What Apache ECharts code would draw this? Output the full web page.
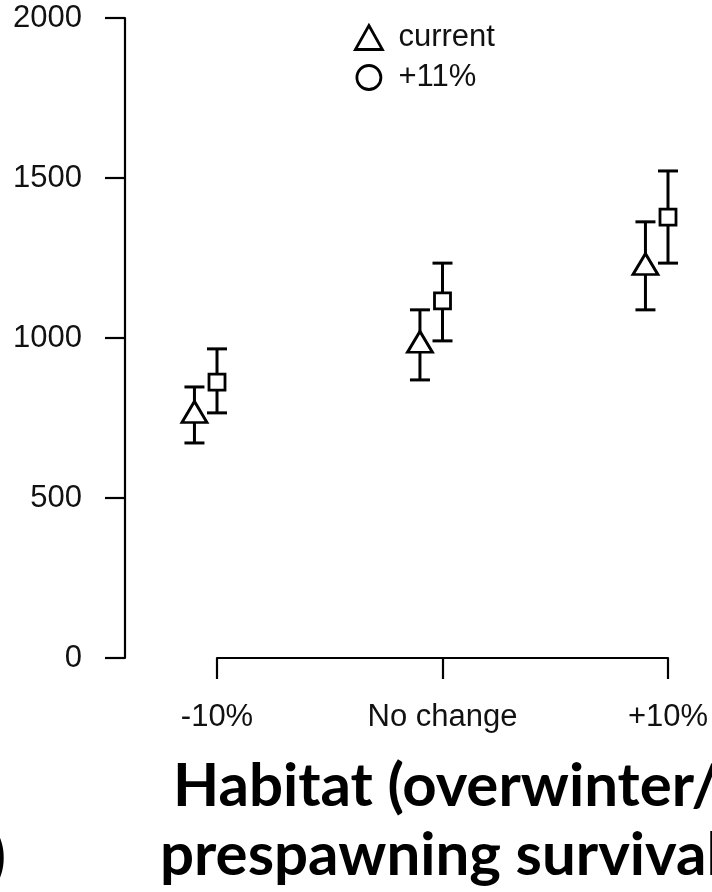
<!DOCTYPE html>
<html>
<head>
<meta charset="utf-8">
<script src="https://cdn.jsdelivr.net/npm/echarts@6/dist/echarts.min.js"></script>
<style>
html,body{margin:0;padding:0;background:#fff;}
#chart{width:712px;height:892px;}
</style>
</head>
<body>
<div id="chart"></div>
<script>
// ---- data ----
const categories = ['-10%', 'No change', '+10%'];
const yTicks = [0, 500, 1000, 1500, 2000];
const seriesNames = ['current', '+11%'];
const currentMean  = [769, 988, 1231];
const currentLower = [672, 869, 1088];
const currentUpper = [847, 1088, 1363];
const plusMean  = [862, 1116, 1378];
const plusLower = [766, 991, 1234];
const plusUpper = [966, 1234, 1522];
const dodge = -0.1; // horizontal offset of the "current" group (category units)

const chart = echarts.init(document.getElementById('chart'), null, {renderer: 'canvas'});

function pts(mean, offset) {
  return mean.map((v, i) => [i + 1 + offset, v]);
}
function bars(lo, hi, offset) {
  return lo.map((v, i) => [i + 1 + offset, v, hi[i]]);
}
function errRender(params, api) {
  const x = api.value(0);
  const lo = api.coord([x, api.value(1)]);
  const hi = api.coord([x, api.value(2)]);
  const w = 10;
  const st = {stroke: '#000', lineWidth: 3, fill: null};
  return {
    type: 'group',
    children: [
      {type: 'line', shape: {x1: lo[0], y1: lo[1], x2: hi[0], y2: hi[1]}, style: st},
      {type: 'line', shape: {x1: lo[0] - w, y1: lo[1], x2: lo[0] + w, y2: lo[1]}, style: st},
      {type: 'line', shape: {x1: hi[0] - w, y1: hi[1], x2: hi[0] + w, y2: hi[1]}, style: st}
    ]
  };
}

const labelFont = {fontFamily: 'Liberation Sans', fontSize: 31, color: '#111'};
const markerStyle = {color: '#fff', borderColor: '#000', borderWidth: 2.8, opacity: 1};

chart.setOption({
  animation: false,
  backgroundColor: '#fff',
  grid: {left: 217, right: 44, top: 18, bottom: 234, containLabel: false},
  xAxis: {
    type: 'value', min: 1, max: 3, interval: 1,
    axisLine: {show: true, lineStyle: {color: '#000', width: 2.2}},
    axisTick: {show: true, length: 21, lineStyle: {color: '#000', width: 2.2}},
    axisLabel: Object.assign({margin: 44, formatter: v => categories[Math.round(v) - 1] || ''}, labelFont),
    splitLine: {show: false}
  },
  yAxis: {
    type: 'value', min: yTicks[0], max: yTicks[yTicks.length - 1], interval: 500,
    offset: 92,
    axisLine: {show: true, lineStyle: {color: '#000', width: 2.2}},
    axisTick: {show: true, length: 20, lineStyle: {color: '#000', width: 2.2}},
    axisLabel: Object.assign({margin: 43, formatter: v => String(v)}, labelFont),
    splitLine: {show: false}
  },
  legend: {
    orient: 'vertical', left: 349, top: 17,
    itemWidth: 27, itemHeight: 24, itemGap: 9,
    textStyle: {fontFamily: 'Liberation Sans', fontSize: 31, lineHeight: 31, color: '#111', padding: [0, 0, 0, 11]},
    data: [
      {name: seriesNames[0], icon: 'triangle', itemStyle: markerStyle},
      {name: seriesNames[1], icon: 'circle', itemStyle: markerStyle}
    ]
  },
  series: [
    {type: 'custom', name: 'err0', data: bars(currentLower, currentUpper, dodge), renderItem: errRender, z: 2, clip: false},
    {type: 'custom', name: 'err1', data: bars(plusLower, plusUpper, 0), renderItem: errRender, z: 2, clip: false},
    {type: 'scatter', name: seriesNames[0], data: pts(currentMean, dodge), symbol: 'triangle', symbolSize: [25, 21], itemStyle: markerStyle, z: 5, clip: false},
    {type: 'scatter', name: seriesNames[1], data: pts(plusMean, 0), symbol: 'rect', symbolSize: [16, 16], itemStyle: markerStyle, z: 5, clip: false}
  ],
  graphic: [
    {type: 'text', left: 173, top: 757, style: {text: 'Habitat (overwinter/', font: 'bold 60px Lato', fill: '#000'}},
    {type: 'text', left: 160, top: 826, style: {text: 'prespawning survival', font: 'bold 60px Lato', fill: '#000'}},
    {type: 'text', x: -11, y: 826, style: {text: ')', font: 'bold 62px Lato', fill: '#000'}}
  ]
});
</script>
</body>
</html>
